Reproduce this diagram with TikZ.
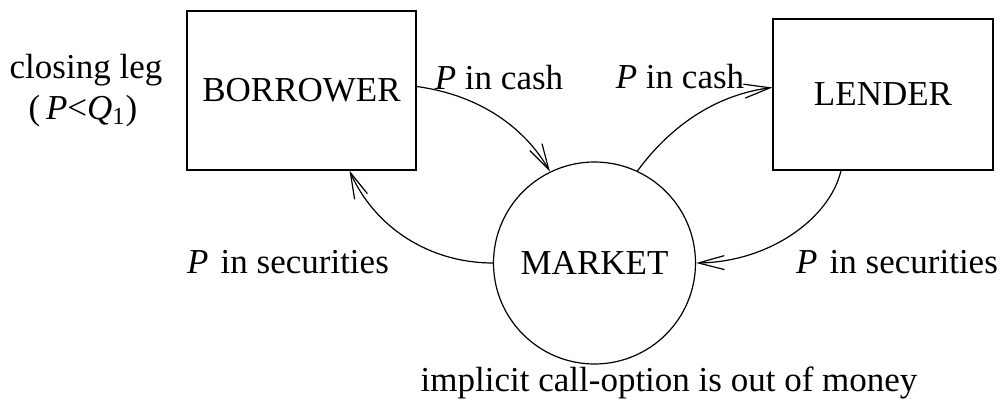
\documentclass[tikz,border=0pt]{standalone}
\usepackage{fontspec}
\setmainfont{Liberation Serif}
\usetikzlibrary{arrows.meta}
\begin{document}
\begin{tikzpicture}[x=0.5pt,y=-0.5pt,>={Straight Barb[length=13pt,width=7pt]},line width=0.6pt,
    every node/.style={font=\fontsize{17.5}{21}\selectfont},
    party/.style={draw,rectangle,minimum width=114.5pt,minimum height=79.5pt},
    pool/.style={draw,circle,minimum size=101pt,inner sep=0pt}]
    \useasboundingbox (0,0) rectangle (1002,407);
    %%
    \node (borrower) at (301.5,90.5) [party] {BORROWER};
    \node (lender) at (883,94.5) [party,minimum width=110pt,minimum height=75.5pt] {LENDER};
    \node (market) at (594.5,263) [pool] {MARKET};
    \node (cashb) at (499,78) {\textit{P} in cash};
    \node (cashl) at (680,77) {\textit{P} in cash};
    \node (secb) at (288,262) {\textit{P}\hspace{0.35em}in securities};
    \node (secl) at (897,262) {\textit{P}\hspace{0.35em}in securities};
    \node (leg) at (86,70) {closing leg};
    \node (cond) at (83,111) {(\,\textit{P}<\textit{Q}\textsubscript{1})};
    \node (note) at (669,383) {implicit call-option is out of money};
    \draw [->] ([yshift=2pt]borrower.east) ..controls (480,95) and (525,128) .. (market.116);
    \draw [->] (market.65) ..controls (675,120) and (722,94) .. ([yshift=3.5pt]lender.west);
    \draw [->] ([xshift=-21pt]lender.south) ..controls (830,218) and (770,262) .. (market.east);
    \draw [->] (market.west) ..controls (430,263) and (375,228) .. ([xshift=24pt]borrower.south);
    %
\end{tikzpicture}
\end{document}
